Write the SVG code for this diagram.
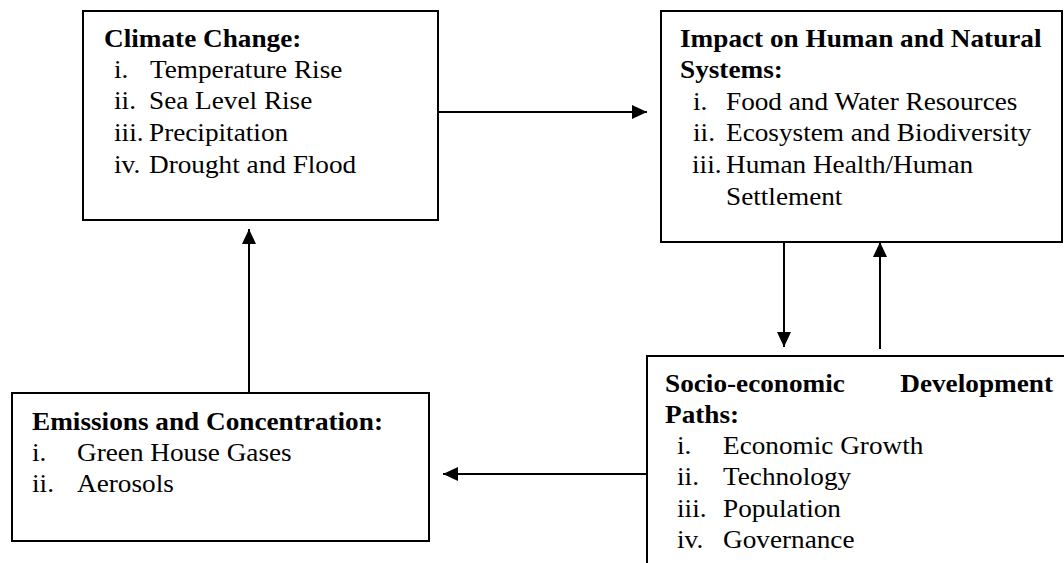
<svg xmlns="http://www.w3.org/2000/svg" width="1064" height="563" viewBox="0 0 1064 563">
  <defs>
    <style>
      .box { fill: #ffffff; stroke: #000000; stroke-width: 2; }
      .t { font-family: "Liberation Serif", "Times New Roman", serif; font-size: 25px; fill: #000000; }
      .b { font-weight: bold; }
      .conn { stroke: #000000; stroke-width: 2; fill: none; marker-end: url(#arrow); }
    </style>
    <marker id="arrow" markerUnits="userSpaceOnUse" markerWidth="16" markerHeight="14" refX="15" refY="7" orient="auto">
      <path d="M0,0 L15,7 L0,14 Z" fill="#000000"/>
    </marker>
  </defs>
  <rect width="1064" height="563" fill="#ffffff"/>

  <g id="connectors">
    <line class="conn" x1="438" y1="112" x2="647" y2="112"/>
    <line class="conn" x1="784" y1="242" x2="784" y2="347"/>
    <line class="conn" x1="880" y1="349" x2="880" y2="242"/>
    <line class="conn" x1="647" y1="474" x2="443" y2="474"/>
    <line class="conn" x1="249" y1="393" x2="249" y2="229"/>
  </g>

  <g id="climate-change">
    <rect class="box" x="83" y="11" width="355" height="209"/>
    <text class="t b" transform="translate(104,47) scale(1.09,1)">Climate Change:</text>
    <text class="t" transform="translate(114,78) scale(1.09,1)">i.</text>
    <text class="t" transform="translate(150,78) scale(1.09,1)">Temperature Rise</text>
    <text class="t" transform="translate(114,109) scale(1.09,1)">ii.</text>
    <text class="t" transform="translate(149,109) scale(1.09,1)">Sea Level Rise</text>
    <text class="t" transform="translate(114,141) scale(1.09,1)">iii.</text>
    <text class="t" transform="translate(149,141) scale(1.09,1)">Precipitation</text>
    <text class="t" transform="translate(114,173) scale(1.09,1)">iv.</text>
    <text class="t" transform="translate(149,173) scale(1.09,1)">Drought and Flood</text>
  </g>

  <g id="impact">
    <rect class="box" x="661" y="11" width="401" height="231"/>
    <text class="t b" transform="translate(680,47) scale(1.09,1)">Impact on Human and Natural</text>
    <text class="t b" transform="translate(680,78) scale(1.09,1)">Systems:</text>
    <text class="t" transform="translate(693,110) scale(1.09,1)">i.</text>
    <text class="t" transform="translate(726,110) scale(1.09,1)">Food and Water Resources</text>
    <text class="t" transform="translate(693,141) scale(1.09,1)">ii.</text>
    <text class="t" transform="translate(726,141) scale(1.09,1)">Ecosystem and Biodiversity</text>
    <text class="t" transform="translate(692,173) scale(1.09,1)">iii.</text>
    <text class="t" transform="translate(726,173) scale(1.09,1)">Human Health/Human</text>
    <text class="t" transform="translate(726,205) scale(1.09,1)">Settlement</text>
  </g>

  <g id="socio-economic">
    <rect class="box" x="647" y="356" width="430" height="230"/>
    <text class="t b" transform="translate(665,392) scale(1.09,1)">Socio-economic</text>
    <text class="t b" text-anchor="end" transform="translate(1053,392) scale(1.09,1)">Development</text>
    <text class="t b" transform="translate(665,423) scale(1.09,1)">Paths:</text>
    <text class="t" transform="translate(677,454) scale(1.09,1)">i.</text>
    <text class="t" transform="translate(723,454) scale(1.09,1)">Economic Growth</text>
    <text class="t" transform="translate(677,485) scale(1.09,1)">ii.</text>
    <text class="t" transform="translate(723,485) scale(1.09,1)">Technology</text>
    <text class="t" transform="translate(677,517) scale(1.09,1)">iii.</text>
    <text class="t" transform="translate(723,517) scale(1.09,1)">Population</text>
    <text class="t" transform="translate(677,548) scale(1.09,1)">iv.</text>
    <text class="t" transform="translate(723,548) scale(1.09,1)">Governance</text>
  </g>

  <g id="emissions">
    <rect class="box" x="12" y="393" width="417" height="148"/>
    <text class="t b" transform="translate(32,430) scale(1.09,1)">Emissions and Concentration:</text>
    <text class="t" transform="translate(32,461) scale(1.09,1)">i.</text>
    <text class="t" transform="translate(77,461) scale(1.09,1)">Green House Gases</text>
    <text class="t" transform="translate(32,492) scale(1.09,1)">ii.</text>
    <text class="t" transform="translate(77,492) scale(1.09,1)">Aerosols</text>
  </g>
</svg>
